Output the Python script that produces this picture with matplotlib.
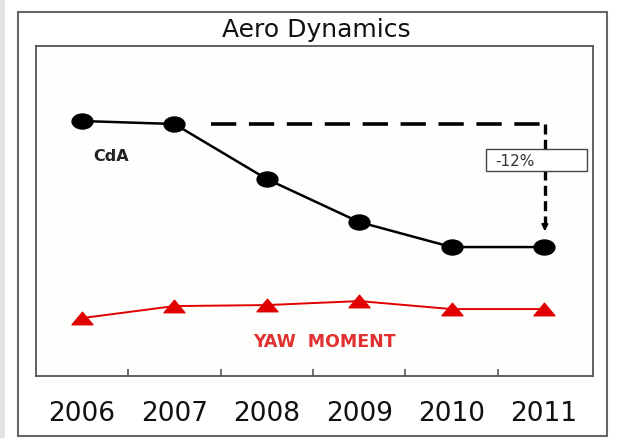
import matplotlib.pyplot as plt
from matplotlib.patches import Rectangle
from matplotlib.path import Path
from matplotlib.transforms import Affine2D

# data (arbitrary units)
years = ['2006', '2007', '2008', '2009', '2010', '2011']
cda = [255, 252, 197, 154, 129, 129]
yaw = [58, 70, 71, 75, 67, 67]

# the source screenshot is stretched sideways, so squash the markers
oval = Path.unit_circle().transformed(Affine2D().scale(1.0, 0.72))
flat_tri = Path([(-1, -0.6), (1, -0.6), (0, 0.6), (-1, -0.6)],
                [Path.MOVETO, Path.LINETO, Path.LINETO, Path.CLOSEPOLY])

fig = plt.figure(figsize=(6.17, 4.39), dpi=100)
fig.patch.set_facecolor('white')

# screenshot strip and outer frame
fig.patches.append(Rectangle((0, 0), 0.008, 1, transform=fig.transFigure,
                             facecolor='#e2e2e2', edgecolor='none'))
fig.patches.append(Rectangle((0.029, 0.005), 0.955, 0.965, transform=fig.transFigure,
                             facecolor='none', edgecolor='#666666', lw=1.5))

ax = fig.add_axes([0.058, 0.141, 0.903, 0.752])
ax.set_facecolor('#fefefc')
x = range(len(years))

ax.plot(x, cda, color='black', lw=1.8, marker=oval, markersize=15, zorder=3)
ax.plot(x, yaw, color='#e00000', lw=1.4, marker=flat_tri, markersize=15, zorder=3)

# -12% marker: dashed reference from 2007 level down to 2011
ax.plot([1.4, 5.01], [cda[1], cda[1]], color='black', lw=2.6, dashes=(7, 3.5))
ax.plot([5.01, 5.01], [cda[1], 150], color='black', lw=2.4, dashes=(3, 1.6))
ax.annotate('', xy=(5.01, 142), xytext=(5.01, 152),
            arrowprops=dict(arrowstyle='-|>', color='black', lw=1.5, mutation_scale=9))
ax.add_patch(Rectangle((4.37, 205), 1.1, 22, facecolor='white',
                       edgecolor='#444444', lw=1.0, zorder=4))
ax.text(4.47, 216, '-12%', fontsize=11, va='center', ha='left', color='#333333', zorder=5)

ax.text(0.32, 221, 'CdA', fontsize=11.5, fontweight='bold', ha='center', va='center',
        color='#222222')
ax.text(2.63, 35, 'YAW  MOMENT', fontsize=12.5, fontweight='bold', ha='center', va='center',
        color='#e03030')

ax.set_xlim(-0.5, 5.53)
ax.set_ylim(0, 330)
ax.set_yticks([])
ax.set_xticks(list(x))
ax.set_xticklabels(years, fontsize=19, color='#111111')
ax.set_xticks([i + 0.5 for i in range(len(years) - 1)], minor=True)
ax.tick_params(axis='x', which='major', length=0, pad=17)
ax.tick_params(axis='x', which='minor', direction='in', length=5, width=1.2, color='#555555')
for s in ax.spines.values():
    s.set_color('#555555')
    s.set_linewidth(1.3)

fig.text(0.512, 0.932, 'Aero Dynamics', fontsize=18, ha='center', va='center', color='#111111')

fig.savefig('out.png', dpi=100)
